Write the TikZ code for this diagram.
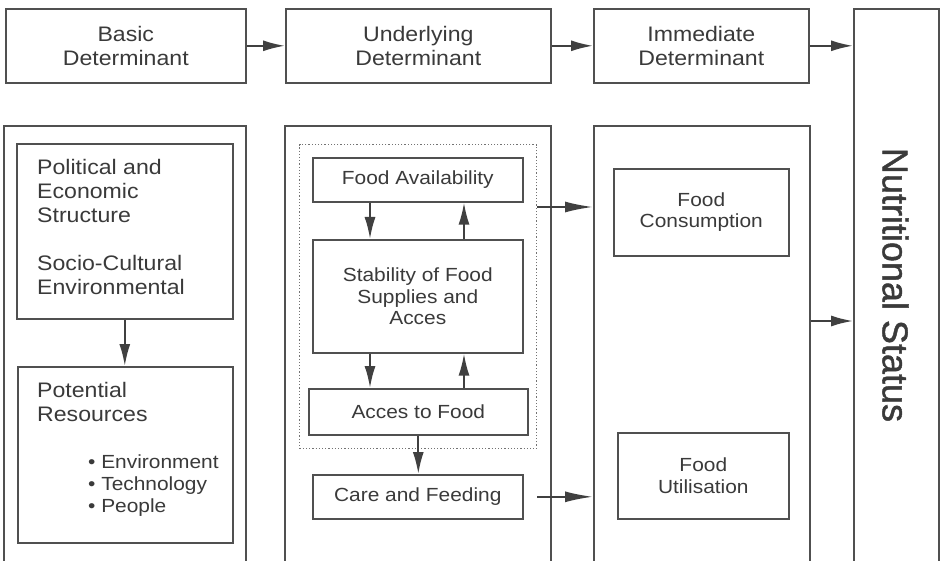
\documentclass[tikz,border=0pt]{standalone}
\usepackage{fontspec}
\setmainfont{Liberation Sans}[FakeStretch=1.1]
\newfontfamily\nsfont{Liberation Sans}[FakeBold=1.2]
\usetikzlibrary{arrows.meta,calc}
\definecolor{ln}{HTML}{505050}
\definecolor{ar}{HTML}{404040}
\definecolor{tx}{HTML}{3A3A3A}
\begin{document}
\begin{tikzpicture}[x=1pt,y=-1pt,
  bx/.style={draw=ln, line width=1.6pt, text=tx, inner sep=0pt, align=center, anchor=north west},
  dotbox/.style={draw=ln!80, line width=1.2pt, dotted, anchor=north west, inner sep=0pt},
  lbl/.style={text=tx, inner sep=0pt, align=left, anchor=north west},
  arr/.style={draw=ar, line width=2pt, -{Latex[length=22pt,width=11pt]}},
  longarr/.style={draw=ar, line width=2pt, -{Latex[length=28pt,width=11pt]}},
  big/.style={font=\fontsize{21}{24}\selectfont},
  small/.style={font=\fontsize{19}{21.5}\selectfont}]
\useasboundingbox (0,0) rectangle (941,561);
\clip (0,0) rectangle (941,561);
\fill[white] (0,0) rectangle (941,561);

% top row
\node[bx,big,minimum width=240pt,minimum height=74pt] (bd) at (5,8) {Basic\\Determinant};
\node[bx,big,minimum width=265pt,minimum height=74pt] (ud) at (285,8) {Underlying\\Determinant};
\node[bx,big,minimum width=215pt,minimum height=74pt] (id) at (593,8) {Immediate\\Determinant};
\node[bx,minimum width=85pt,minimum height=570pt] (ns) at (853,8) {};
\node[text=tx, rotate=-90, inner sep=0pt, font=\nsfont\fontsize{36}{40}\selectfont] (nst) at (895.5,285) {Nutritional Status};

\draw[arr] (bd.east) -- (ud.west);
\draw[arr] (ud.east) -- (id.west);
\draw[arr] (id.east) -- (id.east -| ns.west);

% outer columns
\node[bx,minimum width=242pt,minimum height=450pt] (lo) at (3,125) {};
\node[bx,minimum width=266pt,minimum height=450pt] (mo) at (284,125) {};
\node[bx,minimum width=216pt,minimum height=450pt] (ro) at (593,125) {};

% left column
\node[bx,minimum width=216pt,minimum height=175pt] (pe) at (16,143) {};
\node[lbl,big] (pet) at (37,159) {Political and\\Economic\\Structure\\[24pt]Socio-Cultural\\Environmental};
\node[bx,minimum width=215pt,minimum height=176pt] (pr) at (17,366) {};
\node[lbl,font=\fontsize{21}{22}\selectfont] (prt) at (37,382) {Potential\\[2pt]Resources\\[25pt]{\fontsize{19}{22}\selectfont\hspace*{51pt}\textbullet\ Environment}\\{\fontsize{19}{22}\selectfont\hspace*{51pt}\textbullet\ Technology}\\{\fontsize{19}{22}\selectfont\hspace*{51pt}\textbullet\ People}};
\draw[arr] (pe.south) -- (pe.south |- pr.north);

% middle column
\node[dotbox, minimum width=237pt, minimum height=304pt] (dot) at (299,144) {};
\node[bx,small,minimum width=210pt,minimum height=44pt] (fa) at (312,157) {Food Availability};
\node[bx,small,minimum width=210pt,minimum height=113pt] (st) at (312,239) {Stability of Food\\Supplies and\\Acces};
\node[bx,small,minimum width=219pt,minimum height=46pt] (af) at (308,388) {Acces to Food};
\node[bx,small,minimum width=210pt,minimum height=44pt] (cf) at (312,474) {Care and Feeding};
\coordinate (dn) at (370,0);
\coordinate (up) at (464,0);
\draw[arr] (fa.south -| dn) -- (st.north -| dn);
\draw[arr] (st.north -| up) -- (fa.south -| up);
\draw[arr] (st.south -| dn) -- (af.north -| dn);
\draw[arr] (af.north -| up) -- (st.south -| up);
\draw[arr] (af.south) -- (af.south |- cf.north);

\coordinate (a1) at (0,207);
\draw[longarr] (dot.east |- a1) -- (ro.west |- a1);
\draw[longarr] (dot.east |- cf.east) -- (ro.west |- cf.east);

% right column
\node[bx,small,minimum width=175pt,minimum height=87pt] (fc) at (613,168) {Food\\Consumption};
\node[bx,small,minimum width=171pt,minimum height=86pt] (fu) at (617,432) {Food\\Utilisation};
\coordinate (a2) at (0,321);
\draw[arr] (ro.east |- a2) -- (ns.west |- a2);
\end{tikzpicture}
\end{document}
